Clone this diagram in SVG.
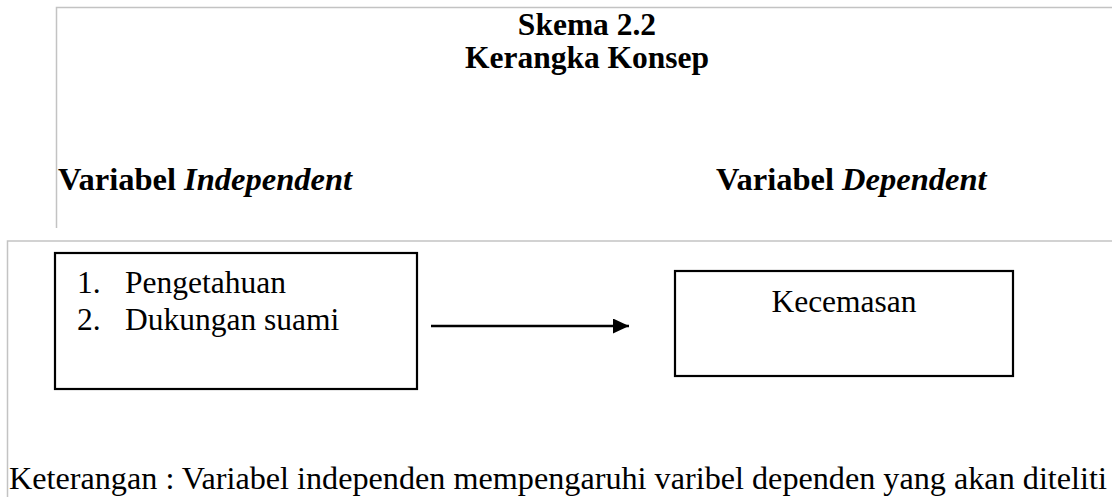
<svg xmlns="http://www.w3.org/2000/svg" width="1112" height="497" viewBox="0 0 1112 497">
  <style>
    .frame { stroke: #c3c3c3; stroke-width: 1.5; fill: none; }
    .box { stroke: #000; stroke-width: 2.2; fill: #fff; }
    .t { font-family: "Liberation Serif", "Times New Roman", serif; fill: #000; font-size: 31.5px; }
    .h { font-size: 32.5px; }
    .b { font-weight: bold; }
    .bi { font-weight: bold; font-style: italic; }
    .conn { stroke: #000; stroke-width: 2.5; fill: none; }
  </style>
  <defs>
    <marker id="arrow" markerWidth="16" markerHeight="16" refX="16" refY="7.5" orient="auto" markerUnits="userSpaceOnUse">
      <path d="M0,0 L16,7.5 L0,15 Z" fill="#000"/>
    </marker>
  </defs>
  <rect width="1112" height="497" fill="#fff"/>
  <g id="frames">
    <path class="frame" d="M1112,7.5 H56.5 V228"/>
    <path class="frame" d="M1112,241 H7.5 V497"/>
  </g>
  <g id="title">
    <text class="t b" x="587" y="35" text-anchor="middle">Skema 2.2</text>
    <text class="t b" x="587" y="68" text-anchor="middle">Kerangka Konsep</text>
  </g>
  <g id="heading-independent">
    <text class="t h b" x="58" y="190">Variabel <tspan class="bi">Independent</tspan></text>
  </g>
  <g id="heading-dependent">
    <text class="t h b" x="716" y="190">Variabel <tspan class="bi">Dependent</tspan></text>
  </g>
  <g id="node-independent">
    <rect class="box" x="55" y="253" width="362" height="136"/>
    <text class="t" x="77" y="293">1.</text>
    <text class="t" x="125" y="293">Pengetahuan</text>
    <text class="t" x="77" y="330">2.</text>
    <text class="t" x="125" y="330">Dukungan suami</text>
  </g>
  <g id="node-dependent">
    <rect class="box" x="675" y="271" width="338" height="105"/>
    <text class="t" x="844" y="312" text-anchor="middle">Kecemasan</text>
  </g>
  <g id="connectors">
    <line class="conn" x1="431" y1="326" x2="629" y2="326" marker-end="url(#arrow)"/>
  </g>
  <g id="caption">
    <text class="t" x="9" y="489" style="font-size:32.2px">Keterangan : Variabel independen mempengaruhi varibel dependen yang akan diteliti</text>
  </g>
</svg>
